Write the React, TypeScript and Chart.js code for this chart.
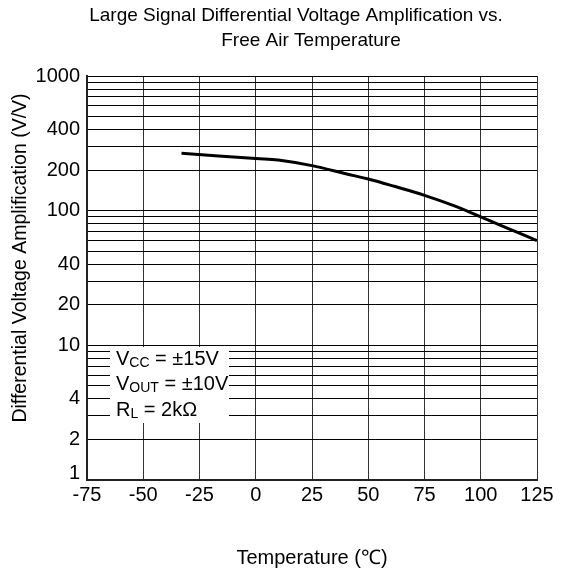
import React, { useEffect, useRef } from "react";
import { Chart, registerables } from "chart.js";

Chart.register(...registerables);

const temperatures = [-33, 0, 10, 25, 40, 50, 62, 75, 88, 100, 112, 125];
const amplification = [267, 244, 238, 216, 188, 172, 151, 130, 109, 90, 74, 60];
const yTickLabels = [1, 2, 4, 10, 20, 40, 100, 200, 400, 1000];
const xTicks = [-75, -50, -25, 0, 25, 50, 75, 100, 125];
const titleLines = ["Large Signal Differential Voltage Amplification vs.", "Free Air Temperature"];
const yTitle = "Differential Voltage Amplification (V/V)";
const xTitle = "Temperature (℃)";

const FONT = "Arial, 'Liberation Sans', Helvetica, sans-serif";

const overlayPlugin = {
  id: "overlay",
  afterDraw(chart: any) {
    const ctx = chart.ctx as CanvasRenderingContext2D;
    const yScale = chart.scales.y;
    ctx.save();
    // bottom y tick label "1" lifted above the x axis labels
    ctx.fillStyle = "#000";
    ctx.font = `20px ${FONT}`;
    ctx.textAlign = "right";
    ctx.textBaseline = "middle";
    ctx.fillText(String(yTickLabels[0]), 80, yScale.getPixelForValue(yTickLabels[0]) - 7);

    // white annotation box
    ctx.fillStyle = "#ffffff";
    ctx.fillRect(110, 347, 119, 76);
    ctx.fillStyle = "#000";
    ctx.textBaseline = "alphabetic";
    ctx.textAlign = "left";
    const drawSub = (x: number, y: number, main: string, sub: string, rest: string) => {
      ctx.font = `20px ${FONT}`;
      ctx.fillText(main, x, y);
      let w = ctx.measureText(main).width;
      ctx.font = `14px ${FONT}`;
      ctx.fillText(sub, x + w, y + 2);
      w += ctx.measureText(sub).width;
      ctx.font = `20px ${FONT}`;
      ctx.fillText(rest, x + w, y);
    };
    drawSub(116, 365, "V", "CC", " = ±15V");
    drawSub(116, 390, "V", "OUT", " = ±10V");
    drawSub(116, 416, "R", "L", " = 2kΩ");

    // titles
    ctx.textAlign = "center";
    ctx.textBaseline = "middle";
    ctx.font = `19px ${FONT}`;
    ctx.fillText(titleLines[0], 296, 16);
    ctx.fillText(titleLines[1], 311, 41);
    // x title
    ctx.font = `20px ${FONT}`;
    ctx.fillText(xTitle, 312, 558);
    // y title
    ctx.font = `19.5px ${FONT}`;
    ctx.translate(21, 258);
    ctx.rotate(-Math.PI / 2);
    ctx.fillText(yTitle, 0, 0);
    ctx.restore();
  },
};

export default function App() {
  const ref = useRef<HTMLCanvasElement>(null);
  useEffect(() => {
    document.body.style.margin = "0";
    const canvas = ref.current!;
    const chart = new Chart(canvas, {
      type: "line",
      data: {
        labels: temperatures,
        datasets: [
          {
            data: temperatures.map((t, i) => ({ x: t, y: amplification[i] })),
            borderColor: "#000",
            borderWidth: 3,
            pointRadius: 0,
            tension: 0.4,
            fill: false,
          },
        ],
      },
      options: {
        responsive: false,
        animation: false,
        devicePixelRatio: 1,
        layout: { padding: { top: 76, right: 26, left: 0, bottom: 0 } },
        plugins: { legend: { display: false }, tooltip: { enabled: false }, title: { display: false } },
        scales: {
          x: {
            type: "linear",
            min: -75,
            max: 125,
            afterBuildTicks: (s: any) => {
              s.ticks = xTicks.map((v) => ({ value: v }));
            },
            afterFit: (s: any) => {
              s.height = 96;
            },
            ticks: {
              color: "#000",
              font: { family: FONT, size: 20 },
              padding: 3,
              maxRotation: 0,
              autoSkip: false,
              callback: (v: any) => String(v),
            },
            grid: { color: "#333", lineWidth: 1, drawTicks: false },
            border: { display: true, color: "#222", width: 2 },
          },
          y: {
            type: "logarithmic",
            min: 1,
            max: 1000,
            afterBuildTicks: (s: any) => {
              const t: any[] = [];
              for (const d of [1, 10, 100]) for (let m = 1; m <= 9; m++) t.push({ value: m * d });
              t.push({ value: 1000 });
              s.ticks = t;
            },
            afterFit: (s: any) => {
              s.width = 87;
            },
            ticks: {
              color: "#000",
              font: { family: FONT, size: 20 },
              padding: 7,
              autoSkip: false,
              callback: (v: any) => {
                const n = Number(v);
                return n !== yTickLabels[0] && yTickLabels.includes(n) ? String(n) : "";
              },
            },
            grid: { color: "#000", lineWidth: 1, drawTicks: false },
            border: { display: true, color: "#222", width: 2 },
          },
        },
      },
      plugins: [overlayPlugin],
    });
    return () => chart.destroy();
  }, []);
  return (
    <div style={{ position: "fixed", left: 0, top: 0, width: 563, height: 576, background: "#fff" }}>
      <canvas ref={ref} width={563} height={576} />
    </div>
  );
}
